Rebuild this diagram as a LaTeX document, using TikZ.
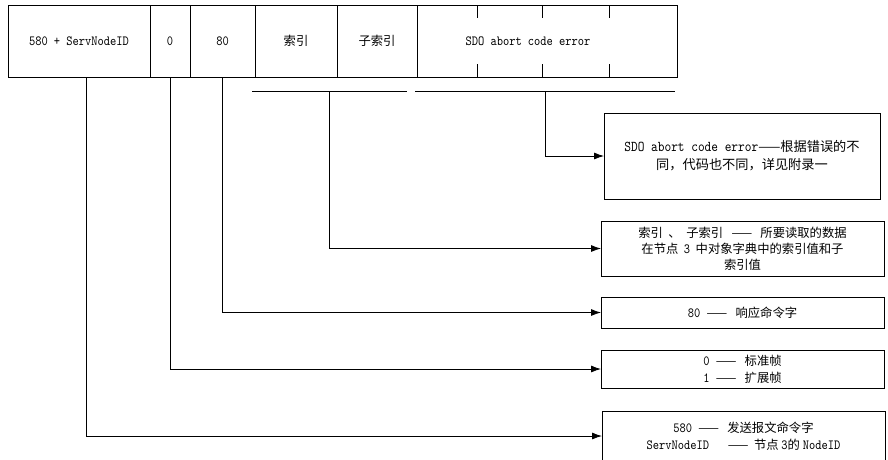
\documentclass[tikz,border=0pt]{standalone}
\usepackage{fontspec}
\setmonofont{lmmono10-regular}[Extension=.otf, FakeStretch=0.85]
\newfontfamily\cjk{Noto Sans CJK SC}[Scale=0.88]
\usetikzlibrary{arrows.meta}

\begin{document}
\begin{tikzpicture}[x=1pt, y=-1pt, line width=0.8pt, >={Latex[length=10pt,width=7pt]},
        cell/.style={draw, minimum height=72, inner sep=0pt, outer sep=0pt},
        infobox/.style={draw, align=center, inner sep=2pt, outer sep=0pt, minimum width=283},
        font=\ttfamily\fontsize{14}{17}\selectfont]
        \useasboundingbox (0,0) rectangle (888,459);

        % Top: frame fields
        \node[cell, minimum width=142] (c580) at (79,41) {580 + ServNodeID};
        \node[cell, minimum width=40] (c0) at (170,41) {0};
        \node[cell, minimum width=65] (c80) at (222.5,41) {80};
        \node[cell, minimum width=82] (cIdx) at (296,41) {\cjk 索引};
        \node[cell, minimum width=80] (cSub) at (377,41) {\cjk 子索引};
        \node[cell, minimum width=260] (cSDO) at (547,41) {};
        \node (tSDO) at (528,41) {SDO abort code error};

        % byte ticks inside the abort code field
        \foreach \tx in {477,542,609} {
            \draw (\tx,5) -- (\tx,18);
            \draw (\tx,64) -- (\tx,77);
        }

        % Right: explanation boxes
        \node[infobox, minimum width=276, minimum height=86, font=\ttfamily\fontsize{15}{18}\selectfont] (bSDO) at (742,156)
            {SDO abort code error{\cjk ——根据错误的不}\\{\cjk 同，代码也不同，详见附录一}};
        \node[infobox, minimum height=55, font=\ttfamily\fontsize{14}{16}\selectfont] (bIdx) at (742.5,248.5)
            {{\cjk 索引\ \ 、\ \ 子索引\ \ \ ——\ \ \ 所要读取的数据}\\{\cjk 在节点\ \ }3{\cjk \ \ 中对象字典中的索引值和子}\\{\cjk 索引值}};
        \node[infobox, minimum height=31] (b80) at (742.5,312.5)
            {80 {\cjk ——\ \ \ 响应命令字}};
        \node[infobox, minimum height=38] (b01) at (742.5,369)
            {0 {\cjk ——\ \ \ 标准帧}\\1 {\cjk ——\ \ \ 扩展帧}};
        \node[infobox, minimum height=50] (b580) at (743.5,436)
            {580 {\cjk ——\ \ \ 发送报文命令字}\\ServNodeID\ \ \ {\cjk ——\ \ 节点 }3{\cjk 的 }NodeID};

        % brackets under the index and abort code fields
        \draw (252,91) -- coordinate (brIdx) (407,91);
        \draw (415,91) -- coordinate (brSDO) (675,91);

        % connectors
        \draw[->] (brSDO) |- (bSDO.west);
        \draw[->] (brIdx) |- (bIdx.west);
        \draw[->] (c80.south) |- (b80.west);
        \draw[->] (c0.south) |- (b01.west);
        \draw[->] ([xshift=7]c580.south) |- (b580.west);
    \end{tikzpicture}
\end{document}
